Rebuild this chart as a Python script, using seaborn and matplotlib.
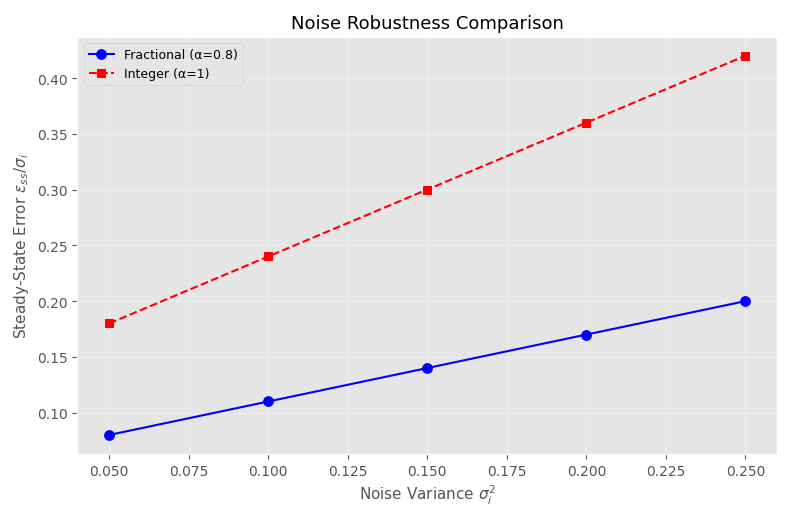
import matplotlib
matplotlib.use("Agg")
import matplotlib.pyplot as plt
import seaborn as sns
import pandas as pd

noise_var = [0.05, 0.10, 0.15, 0.20, 0.25]
frac_err = [0.08, 0.11, 0.14, 0.17, 0.20]
int_err = [0.18, 0.24, 0.30, 0.36, 0.42]

plt.style.use("ggplot")
fig = plt.figure(figsize=(7.98, 5.10), dpi=100)
ax = fig.add_axes([0.097, 0.108, 0.877, 0.818])

df_f = pd.DataFrame({"x": noise_var, "y": frac_err})
df_i = pd.DataFrame({"x": noise_var, "y": int_err})
sns.lineplot(data=df_f, x="x", y="y", ax=ax, color="blue", marker="o", markersize=7,
             markeredgecolor="blue", linestyle="-", linewidth=1.5, label="Fractional (α=0.8)")
sns.lineplot(data=df_i, x="x", y="y", ax=ax, color="red", marker="s", markersize=6,
             markeredgecolor="red", linestyle="--", linewidth=1.5, label="Integer (α=1)")
ax.grid(True, alpha=0.3)
ax.set_xlabel(r"Noise Variance $\sigma_i^2$", fontsize=11)
ax.set_ylabel(r"Steady-State Error $\varepsilon_{ss}/\sigma_i$", fontsize=11)
ax.set_title("Noise Robustness Comparison", fontsize=13)
ax.set_xticks([0.05, 0.075, 0.1, 0.125, 0.15, 0.175, 0.2, 0.225, 0.25])
ax.set_xticklabels(["0.050", "0.075", "0.100", "0.125", "0.150", "0.175", "0.200", "0.225", "0.250"])
ax.set_yticks([0.10, 0.15, 0.20, 0.25, 0.30, 0.35, 0.40])
ax.set_yticklabels(["0.10", "0.15", "0.20", "0.25", "0.30", "0.35", "0.40"])
ax.legend(loc="upper left", fontsize=9)
fig.savefig("out.png", dpi=100)
